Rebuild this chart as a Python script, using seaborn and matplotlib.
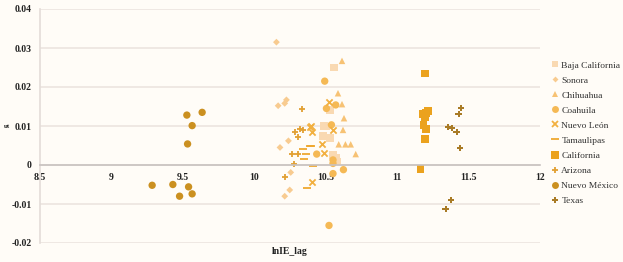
import matplotlib
matplotlib.use("Agg")
import matplotlib.pyplot as plt
import seaborn as sns
import pandas as pd
from matplotlib.lines import Line2D

states = ["Baja California", "Sonora", "Chihuahua", "Coahuila", "Nuevo León",
          "Tamaulipas", "California", "Arizona", "Nuevo México", "Texas"]

bc_x = [10.56, 10.53, 10.50, 10.48, 10.53, 10.55, 10.58, 10.49, 10.57]
bc_y = [0.025, 0.0141, 0.0099, 0.0074, 0.0070, 0.0026, 0.0009, 0.0100, 0.0018]
son_x = [10.155, 10.167, 10.213, 10.225, 10.18, 10.239, 10.255, 10.248, 10.213]
son_y = [0.0315, 0.0152, 0.0158, 0.0167, 0.0045, 0.0062, -0.0019, -0.0064, -0.0080]
chi_x = [10.614, 10.586, 10.614, 10.628, 10.621, 10.591, 10.638, 10.675, 10.71]
chi_y = [0.0267, 0.0184, 0.0156, 0.0120, 0.0090, 0.0053, 0.0053, 0.0053, 0.0028]
coa_x = [10.493, 10.57, 10.505, 10.54, 10.437, 10.551, 10.551, 10.624, 10.551, 10.523]
coa_y = [0.0215, 0.0154, 0.0145, 0.0103, 0.0028, 0.0013, 0.0004, -0.0012, -0.0022, -0.0155]
nl_x = [10.523, 10.393, 10.40, 10.407, 10.551, 10.474, 10.486, 10.404]
nl_y = [0.0161, 0.0097, 0.0100, 0.0085, 0.0090, 0.0053, 0.0030, -0.0044]
tam_x = [10.40, 10.39, 10.34, 10.36, 10.35, 10.41, 10.37]
tam_y = [0.0050, 0.0048, 0.0040, 0.0029, 0.0016, -0.0003, -0.0058]
cal_x = [11.195, 11.181, 11.197, 11.218, 11.204, 11.185, 11.204, 11.197, 11.164]
cal_y = [0.0235, 0.0131, 0.0122, 0.0138, 0.0133, 0.0103, 0.0092, 0.0066, -0.0011]
az_x = [10.337, 10.318, 10.344, 10.288, 10.306, 10.262, 10.306, 10.276, 10.213]
az_y = [0.0144, 0.0092, 0.0090, 0.0085, 0.0071, 0.0028, 0.0028, 0.0002, -0.0032]
nm_x = [9.528, 9.565, 9.635, 9.533, 9.285, 9.43, 9.54, 9.477, 9.565]
nm_y = [0.0128, 0.0101, 0.0135, 0.0054, -0.0052, -0.0050, -0.0056, -0.0080, -0.0074]
tx_x = [11.449, 11.43, 11.355, 11.383, 11.416, 11.439, 11.376, 11.339]
tx_y = [0.0147, 0.0130, 0.0098, 0.0095, 0.0085, 0.0044, -0.0089, -0.0112]

xs = [bc_x, son_x, chi_x, coa_x, nl_x, tam_x, cal_x, az_x, nm_x, tx_x]
ys = [bc_y, son_y, chi_y, coa_y, nl_y, tam_y, cal_y, az_y, nm_y, tx_y]

xticks = [8.5, 9, 9.5, 10, 10.5, 11, 11.5, 12]
xtick_labels = ["8.5", "9", "9.5", "10", "10.5", "11", "11.5", "12"]
yticks = [-0.02, -0.01, 0, 0.01, 0.02, 0.03, 0.04]
ytick_labels = ["-0.02", "-0.01", "0", "0.01", "0.02", "0.03", "0.04"]

rows = []
for s, xx, yy in zip(states, xs, ys):
    for a, b in zip(xx, yy):
        rows.append({"state": s, "x": a, "y": b})
df = pd.DataFrame(rows)

colors = {
    "Baja California": "#F9D9B2",
    "Sonora": "#F8CB90",
    "Chihuahua": "#F7C274",
    "Coahuila": "#F5B955",
    "Nuevo León": "#F2B040",
    "Tamaulipas": "#EFA830",
    "California": "#EBA21E",
    "Arizona": "#E2A032",
    "Nuevo México": "#CB9020",
    "Texas": "#A97B26",
}
markers = {
    "Baja California": "s", "Sonora": "D", "Chihuahua": "^", "Coahuila": "o",
    "Nuevo León": "x", "Tamaulipas": "_", "California": "s", "Arizona": "+",
    "Nuevo México": "o", "Texas": "P",
}
sizes = {
    "Baja California": 30, "Sonora": 12, "Chihuahua": 22, "Coahuila": 28,
    "Nuevo León": 20, "Tamaulipas": 30, "California": 30, "Arizona": 16,
    "Nuevo México": 28, "Texas": 20,
}

sns.set_theme(style="white")
plt.rcParams["font.family"] = ["Liberation Serif", "DejaVu Serif"]

fig = plt.figure(figsize=(6.23, 2.62), dpi=100)
fig.patch.set_facecolor("#FFFCF7")
ax = fig.add_axes([40 / 623, 1 - 243 / 262, 500 / 623, 234 / 262])
ax.set_facecolor("#FFFCF7")

for s in states:
    sub = df[df["state"] == s]
    m = markers[s]
    kw = {}
    if m in ("x", "+", "_"):
        kw["linewidth"] = 1.3
    else:
        kw["edgecolor"] = "none"
    sns.scatterplot(data=sub, x="x", y="y", ax=ax, color=colors[s], marker=m,
                    s=sizes[s], legend=False, **kw)

for sp in ["top", "right"]:
    ax.spines[sp].set_visible(False)
ax.spines["left"].set_color("#E4DCD8")
ax.spines["left"].set_linewidth(1.2)
ax.spines["bottom"].set_position(("data", 0))
ax.spines["bottom"].set_color("#C8C2C0")
ax.spines["bottom"].set_linewidth(1.2)

ax.set_xlim(8.5, 12)
ax.set_ylim(-0.02, 0.04)
ax.set_yticks(yticks)
ax.set_yticklabels(ytick_labels, fontsize=7, fontweight="bold", color="#222222")
ax.set_xticks(xticks)
ax.set_xticklabels(xtick_labels, fontsize=7, fontweight="bold", color="#222222")
ax.tick_params(axis="both", length=0, pad=6, labelsize=7)
ax.yaxis.grid(True, color="#ECE4E0", linewidth=1.2)
ax.xaxis.grid(False)
ax.set_xlabel("")
ax.set_ylabel("")

fig.text(290 / 623, 1 - 251 / 262, "lnIE_lag", ha="center", va="center",
         fontsize=7, fontweight="bold", color="#222222")
fig.text(7 / 623, 1 - 127 / 262, "ut", ha="center", va="center",
         fontsize=5, fontweight="bold", color="#222222")

handles = []
for s in states:
    m = markers[s]
    ms = {"s": 4.5, "D": 3, "^": 4.5, "o": 5, "x": 4, "_": 6, "+": 4, "P": 4.5}[m]
    if s == "California":
        ms = 5.5
    h = Line2D([], [], linestyle="none", marker=m, color=colors[s],
               markersize=ms, markeredgewidth=1.3 if m in ("x", "+", "_") else 0)
    handles.append(h)
leg = fig.legend(handles, states, loc="upper left",
                 bbox_to_anchor=(551 / 623, 1 - 61 / 262), frameon=False,
                 fontsize=6.8, labelspacing=0.68, handlelength=0.8,
                 handletextpad=0.3, borderaxespad=0, borderpad=0)
for t in leg.get_texts():
    t.set_color("#333333")

fig.savefig("out.png", dpi=100, facecolor=fig.get_facecolor())
